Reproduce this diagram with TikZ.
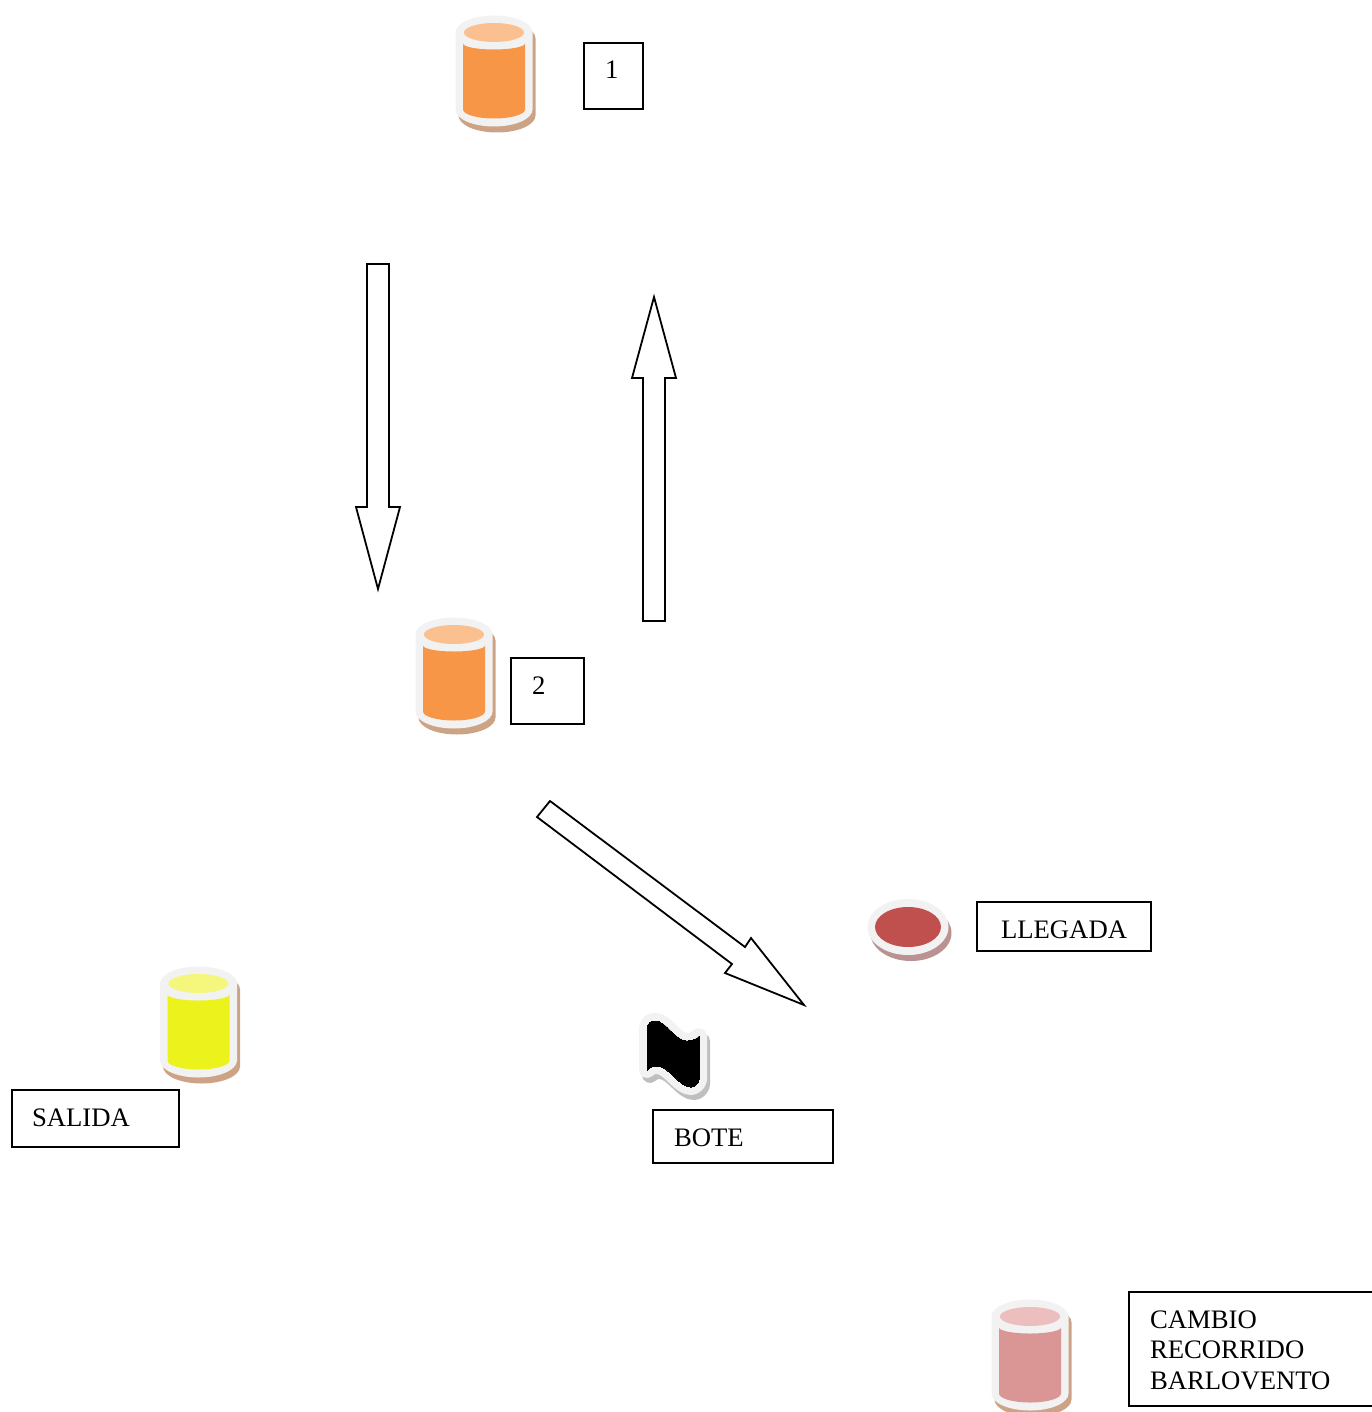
\documentclass[tikz,border=0pt]{standalone}
\usepackage{fontspec}
\setmainfont{Liberation Serif}
\usetikzlibrary{positioning}
\definecolor{rim}{HTML}{F2F2F2}
\definecolor{tanshade}{HTML}{CDA385}
\definecolor{discshade}{HTML}{BB9292}
\definecolor{discred}{HTML}{C0504D}
\tikzset{
	tagbox/.style={draw,line width=1.8pt,anchor=north west,outer sep=0pt,inner ysep=0pt,inner xsep=21pt,align=left,font=\fontsize{26.7}{30.6}\selectfont,text height=26pt},
	blockarrow/.style={draw,line width=1.8pt,fill=white,line join=miter},
	pics/barrel/.style n args={2}{code={
		\path[fill=tanshade,xshift=3pt,yshift=-6pt] (-38.5,0) arc[start angle=180,end angle=0,x radius=38.5pt,y radius=17pt] -- (38.5,77) arc[start angle=0,end angle=-180,x radius=38.5pt,y radius=17pt] -- cycle;
		\path[fill=rim] (-38.5,0) arc[start angle=180,end angle=0,x radius=38.5pt,y radius=17pt] -- (38.5,77) arc[start angle=0,end angle=-180,x radius=38.5pt,y radius=17pt] -- cycle;
		\path[fill=#1] (-31,11) arc[start angle=180,end angle=360,x radius=31pt,y radius=6pt] -- (31,77) arc[start angle=0,end angle=-180,x radius=31pt,y radius=9pt] -- cycle;
		\path[fill=#2] (0,0) ellipse[x radius=30pt,y radius=9.5pt];
	}}
}
\begin{document}
\begin{tikzpicture}[x=1pt,y=-1pt]
	\useasboundingbox (0,0) rectangle (1371,1412);
	\foreach \x/\y/\body/\lid [count=\n] in {494/32.5/F79646/FBC08F,454/634.5/F79646/FBC08F,198.5/983.5/ECF21C/F4F77C,1030/1316.5/D99694/ECBEBE} {
		\definecolor{bodyc}{HTML}{\body}
		\definecolor{lidc}{HTML}{\lid}
		\pic (barrel\n) at (\x,\y) {barrel={bodyc}{lidc}};
	}

	\path[fill=discshade] (911,933) ellipse[x radius=40.5pt,y radius=28pt];
	\path[fill=rim] (908,927) ellipse[x radius=40.5pt,y radius=28pt];
	\path[fill=discred] (908,927) ellipse[x radius=33pt,y radius=20pt];

	\foreach \ink/\wd/\dx/\dy in {black!25/16/3/5,rim/16/0/0,black/0/0/0}
		\path[shift={(647+\dx,1021+\dy)},fill=\ink,draw=\ink,line width=\wd pt,line join=round]
			(0,8) .. controls (0,2) and (4,0) .. (8,0) .. controls (20,0) and (28,20) .. (40,20)
			.. controls (45,20) and (50,18) .. (52,15) -- (52,58) .. controls (52,62) and (48,66) .. (44,66)
			.. controls (32,66) and (22,45) .. (10,45) .. controls (5,45) and (2,47) .. (0,49) -- cycle;

	\draw[blockarrow] (367,264) -- (389,264) -- (389,507) -- (400,507) -- (378,589) -- (356,507) -- (367,507) -- cycle;
	\draw[blockarrow] (643,621) -- (665,621) -- (665,378) -- (676,378) -- (654,297) -- (632,378) -- (643,378) -- cycle;
	\draw[blockarrow] (550,801) -- (745,947) -- (751,938) -- (804,1005) -- (725,973) -- (732,964) -- (537,817) -- cycle;

	\node[tagbox,minimum width=59pt,minimum height=66pt,text width=17pt,text depth=20pt] (N1) at (584,43) {1};
	\node[tagbox,minimum width=73pt,minimum height=66pt,text width=31pt,text depth=20pt] (N2) at (511,658) {2};
	\node[tagbox,minimum width=174pt,minimum height=49pt,inner xsep=24pt,text width=126pt,text depth=3pt] (LL) at (977,902) {LLEGADA};
	\node[tagbox,minimum width=167pt,minimum height=57pt,inner xsep=20pt,text width=127pt,text depth=11pt] (SA) at (12,1090) {SALIDA};
	\node[tagbox,minimum width=180pt,minimum height=53pt,text width=138pt,text depth=7pt] (BO) at (653,1110) {BOTE};
	\node[tagbox,minimum width=260pt,minimum height=114pt,text width=218pt,text height=,text depth=] (CA) at (1129,1292) {\rule{0pt}{20pt}CAMBIO\\RECORRIDO\\BARLOVENTO};
\end{tikzpicture}
\end{document}
